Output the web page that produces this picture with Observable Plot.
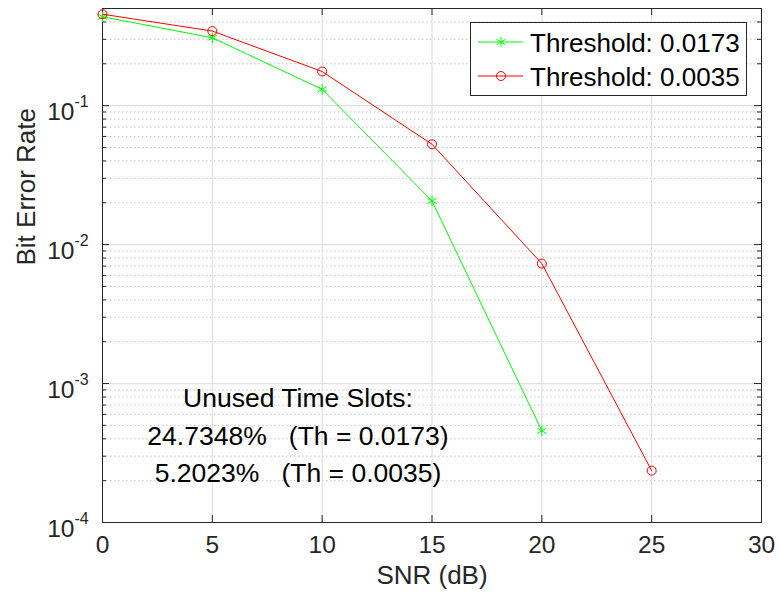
<!DOCTYPE html>
<html>
<head>
<meta charset="utf-8">
<script src="https://cdn.jsdelivr.net/npm/d3@7"></script>
<script src="https://cdn.jsdelivr.net/npm/@observablehq/plot@0.6"></script>
<style>
  html, body { margin: 0; padding: 0; background: #ffffff; }
  #chart svg { display: block; }
</style>
</head>
<body>
<div id="chart"></div>
<script>
// ---- data ----
const snr = [0, 5, 10, 15, 20, 25];
const berTh0173 = [0.436, 0.308, 0.131, 0.0206, 0.000457];
const berTh0035 = [0.455, 0.344, 0.176, 0.0527, 0.0073, 0.000236];
const seriesNames = ["Threshold: 0.0173", "Threshold: 0.0035"];
const seriesColors = ["#00ff00", "#ff0000"];
const xTicks = [0, 5, 10, 15, 20, 25, 30];
const yMajor = [1e-4, 1e-3, 1e-2, 1e-1];
const yExponents = ["-4", "-3", "-2", "-1"];
const xLabel = "SNR (dB)";
const yLabel = "Bit Error Rate";
const annotationLines = ["Unused Time Slots:", "24.7348%\u00a0\u00a0\u00a0(Th = 0.0173)", "5.2023%\u00a0\u00a0\u00a0(Th = 0.0035)"];
const annotationAt = {x: 8.9, y: 4.43e-4};

// minor log ticks (2..9 per decade) below the top limit
const yTop = 0.5;
const yMinor = [-4, -3, -2, -1].flatMap(e => [2,3,4,5,6,7,8,9].map(k => k * Math.pow(10, e))).filter(v => v < yTop * 0.999);

// ---- layout ----
const W = 780, H = 600;
const mL = 102, mR = 19, mT = 8, mB = 78;
const pW = W - mL - mR, pH = H - mT - mB;
const axisColor = "#262626";
const font = "'Liberation Sans', Arial, Helvetica, sans-serif";

const green = berTh0173.map((v, i) => ({x: snr[i], y: v}));
const red = berTh0035.map((v, i) => ({x: snr[i], y: v}));

const chart = Plot.plot({
  width: W, height: H,
  marginLeft: mL, marginRight: mR, marginTop: mT, marginBottom: mB,
  x: {domain: [0, 30], axis: null},
  y: {type: "log", domain: [1e-4, yTop], axis: null},
  style: {fontFamily: font, background: "#ffffff", overflow: "visible"},
  marks: [
    // grid
    Plot.ruleY(yMinor, {y: d => d, stroke: "#c4c4c4", strokeWidth: 1, strokeDasharray: "1.5,2.5"}),
    Plot.ruleX(xTicks, {x: d => d, stroke: "#e0e0e0", strokeWidth: 1.2}),
    Plot.ruleY(yMajor, {y: d => d, stroke: "#e0e0e0", strokeWidth: 1.2}),
    // ticks (inward, all four sides)
    Plot.tickX(xTicks, {x: d => d, insetTop: pH - 7, stroke: axisColor}),
    Plot.tickX(xTicks, {x: d => d, insetBottom: pH - 7, stroke: axisColor}),
    Plot.tickY(yMajor, {y: d => d, insetRight: pW - 7, stroke: axisColor}),
    Plot.tickY(yMajor, {y: d => d, insetLeft: pW - 7, stroke: axisColor}),
    Plot.tickY(yMinor, {y: d => d, insetRight: pW - 4, stroke: axisColor}),
    Plot.tickY(yMinor, {y: d => d, insetLeft: pW - 4, stroke: axisColor}),
    Plot.frame({stroke: axisColor, strokeWidth: 1}),
    // tick labels
    Plot.text(xTicks, {x: d => d, text: d => String(d), frameAnchor: "bottom", dy: 30, fontSize: 24.5, fill: axisColor}),
    Plot.text(yMajor, {y: d => d, text: () => "10", frameAnchor: "left", textAnchor: "end", dx: -28, dy: 7, fontSize: 24.5, fill: axisColor}),
    Plot.text(yMajor, {y: d => d, text: (d, i) => yExponents[i], frameAnchor: "left", textAnchor: "start", dx: -28, dy: -4, fontSize: 16, fill: axisColor}),
    // axis labels
    Plot.text([xLabel], {text: d => d, frameAnchor: "bottom", dy: 61, fontSize: 26, fill: axisColor}),
    Plot.text([yLabel], {text: d => d, frameAnchor: "left", dx: -75.5, rotate: -90, fontSize: 26, fill: axisColor}),
    // data
    Plot.line(green, {x: "x", y: "y", stroke: seriesColors[0], strokeWidth: 1}),
    Plot.dot(green, {x: "x", y: "y", symbol: "asterisk", r: 5, stroke: seriesColors[0], strokeWidth: 1}),
    Plot.line(red, {x: "x", y: "y", stroke: seriesColors[1], strokeWidth: 1}),
    Plot.dot(red, {x: "x", y: "y", symbol: "circle", r: 4.5, stroke: seriesColors[1], fill: "none", strokeWidth: 1}),
    // annotation
    Plot.text([annotationLines.join("\n")], {x: () => annotationAt.x, y: () => annotationAt.y, text: d => d, textAnchor: "middle", lineAnchor: "middle", lineHeight: 1.4, fontSize: 26.5, fill: "#000000"})
  ]
});

document.getElementById("chart").appendChild(chart);

// ---- legend (inside the axes, top-right) ----
const svg = d3.select(chart);
const lg = svg.append("g").attr("font-family", font).attr("font-size", 26).attr("text-anchor", "start");
const box = {x: 470.5, y: 22.5, w: 276, h: 73};
lg.append("rect").attr("x", box.x).attr("y", box.y).attr("width", box.w).attr("height", box.h)
  .attr("fill", "#ffffff").attr("stroke", axisColor).attr("stroke-width", 1);
const rowY = [42, 76];
const symbols = [d3.symbolAsterisk, d3.symbolCircle];
const symbolR = [5, 4.5];
seriesNames.forEach((name, i) => {
  const y = rowY[i];
  lg.append("line").attr("x1", 478).attr("x2", 523).attr("y1", y).attr("y2", y)
    .attr("stroke", seriesColors[i]).attr("stroke-width", 1);
  lg.append("path").attr("transform", `translate(501,${y})`)
    .attr("d", d3.symbol(symbols[i], Math.PI * symbolR[i] * symbolR[i])())
    .attr("fill", "none").attr("stroke", seriesColors[i]).attr("stroke-width", 1);
  lg.append("text").attr("x", 530).attr("y", y + 9.5).attr("fill", "#000000").attr("text-anchor", "start").text(name);
});
</script>
</body>
</html>
